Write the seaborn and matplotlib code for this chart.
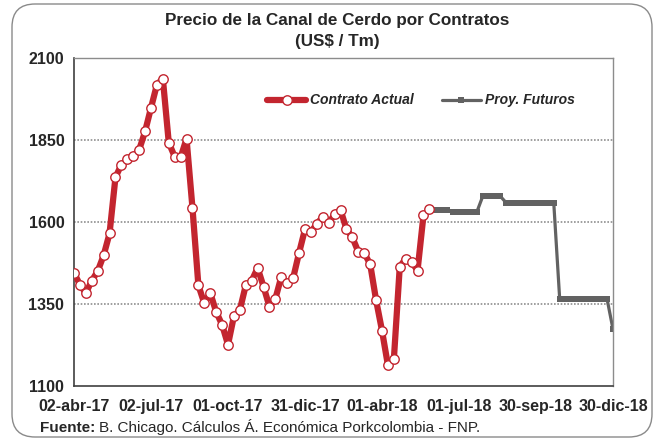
import numpy as np
import pandas as pd
import matplotlib
matplotlib.use("Agg")
import matplotlib.pyplot as plt
import seaborn as sns
from matplotlib.patches import FancyBboxPatch

# ---- data ----
start_date = "2017-04-02"
actual_values = [1445, 1409, 1383, 1421, 1450, 1498, 1565, 1736, 1775, 1791,
                 1801, 1820, 1876, 1948, 2019, 2037, 1842, 1799, 1797, 1854,
                 1643, 1407, 1352, 1384, 1326, 1287, 1226, 1313, 1332, 1407,
                 1421, 1460, 1403, 1342, 1366, 1433, 1413, 1429, 1506, 1578,
                 1570, 1594, 1616, 1596, 1624, 1637, 1578, 1553, 1509, 1505,
                 1472, 1362, 1269, 1163, 1181, 1464, 1488, 1478, 1452, 1620, 1640]
futures_values = [1636, 1636, 1636, 1636,
                  1630, 1630, 1630, 1630, 1630,
                  1678, 1678, 1678, 1678,
                  1658, 1658, 1658, 1658, 1658, 1658, 1658, 1658, 1658,
                  1365, 1365, 1365, 1365, 1365, 1365, 1365, 1365, 1365,
                  1273]
tick_dates = ["2017-04-02", "2017-07-02", "2017-10-01", "2017-12-31",
              "2018-04-01", "2018-07-01", "2018-09-30", "2018-12-30"]
tick_labels = ["02-abr-17", "02-jul-17", "01-oct-17", "31-dic-17",
               "01-abr-18", "01-jul-18", "30-sep-18", "30-dic-18"]
y_ticks = [1100, 1350, 1600, 1850, 2100]
series_names = ["Contrato Actual", "Proy. Futuros"]

dates_actual = pd.date_range(start_date, periods=len(actual_values), freq="7D")
dates_fut = pd.date_range(dates_actual[-1], periods=len(futures_values), freq="7D")
df_a = pd.DataFrame({"fecha": dates_actual, "precio": actual_values})
df_f = pd.DataFrame({"fecha": dates_fut, "precio": futures_values})

sns.set_theme(style="white")
plt.rcParams["font.family"] = ["Liberation Sans", "DejaVu Sans"]

RED = "#C3252F"
GREY = "#626262"

fig = plt.figure(figsize=(6.59, 4.40), dpi=100)
ax = fig.add_axes([74 / 659, 1 - 386 / 440, (613 - 74) / 659, (386 - 58) / 440])

sns.lineplot(data=df_f, x="fecha", y="precio", ax=ax, color=GREY, lw=2.3,
             marker="s", markersize=5, markeredgewidth=0, label=series_names[1],
             zorder=2)
sns.lineplot(data=df_a, x="fecha", y="precio", ax=ax, color=RED, lw=4.5,
             marker="o", markersize=6.8, markerfacecolor="white",
             markeredgecolor=RED, markeredgewidth=1.0, label=series_names[0],
             zorder=3)

ax.set_xlim(pd.Timestamp(tick_dates[0]), pd.Timestamp(tick_dates[-1]))
ax.set_ylim(y_ticks[0], y_ticks[-1])
ax.set_yticks(y_ticks)
ax.set_yticklabels([str(v) for v in y_ticks], fontsize=11.5, fontweight="bold")
ax.set_xticks(pd.to_datetime(tick_dates))
ax.set_xticklabels(tick_labels, fontsize=11.5, fontweight="bold")
ax.set_xlabel("")
ax.set_ylabel("")
for v in y_ticks[1:-1]:
    ax.axhline(v, color="#8f8f8f", lw=1.2, ls=(0, (1, 1)), zorder=1)

ax.tick_params(axis="both", which="major", direction="out", length=4, width=1,
               color="#404040", pad=3)
ax.tick_params(axis="x", pad=5)
for s in ["left", "bottom"]:
    ax.spines[s].set_color("#404040")
    ax.spines[s].set_linewidth(1.2)
for s in ["top", "right"]:
    ax.spines[s].set_color("#8c8c8c")
    ax.spines[s].set_linewidth(1.0)

# legend
handles, labels = ax.get_legend_handles_labels()
order = [labels.index(series_names[0]), labels.index(series_names[1])]
leg = ax.legend([handles[i] for i in order], [labels[i] for i in order],
                loc="upper left", bbox_to_anchor=(0.335, 0.93), ncol=2,
                frameon=False, handlelength=2.8, columnspacing=2.0,
                handletextpad=0.3,
                prop={"size": 10, "weight": "bold", "style": "italic"})

# titles
fig.text(337 / 659, 0.953, "Precio de la Canal de Cerdo por Contratos",
         ha="center", va="center", fontsize=12.3, fontweight="bold")
fig.text(337 / 659, 0.905, "(US$ / Tm)", ha="center", va="center",
         fontsize=12.3, fontweight="bold")

# footer
fy = 1 - 432 / 440
t1 = fig.text(40 / 659, fy, "Fuente:", ha="left", va="baseline",
              fontsize=11, fontweight="bold")
fig.canvas.draw()
bb = t1.get_window_extent()
fig.text((bb.x1 + 4) / 659, fy,
         "B. Chicago. Cálculos Á. Económica Porkcolombia - FNP.",
         ha="left", va="baseline", fontsize=11)

# rounded frame
fig.patches.append(FancyBboxPatch((12 / 659, 3 / 440), (652 - 12) / 659, (436 - 3) / 440,
                                  boxstyle="round,pad=0,rounding_size=0.035",
                                  mutation_aspect=659 / 440,
                                  transform=fig.transFigure, fill=False,
                                  ec="#8a8a8a", lw=1.0))

fig.savefig("out.png", dpi=100)
